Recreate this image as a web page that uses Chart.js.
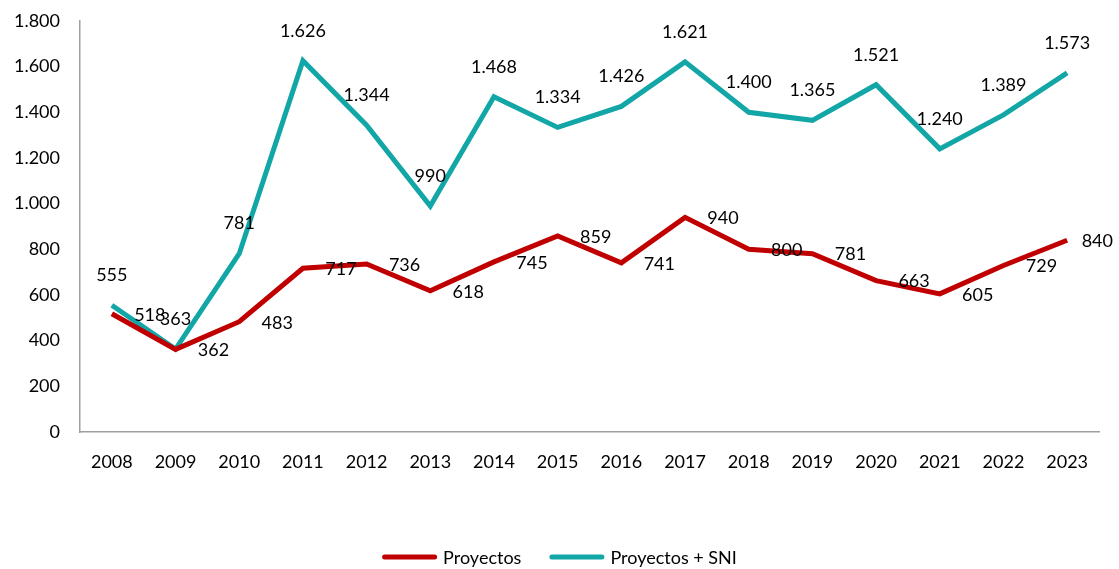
<!DOCTYPE html>
<html>
<head>
<meta charset="utf-8">
<script src="https://cdn.jsdelivr.net/npm/chart.js@4/dist/chart.umd.min.js"></script>
<style>
  html, body { margin: 0; padding: 0; background: #fff; }
  #wrap { width: 1119px; height: 569px; }
</style>
</head>
<body>
<div id="wrap"><canvas id="chart"></canvas></div>
<script>
const years = ["2008", "2009", "2010", "2011", "2012", "2013", "2014", "2015",
  "2016", "2017", "2018", "2019", "2020", "2021", "2022", "2023"];
const proyectos = [518, 362, 483, 717, 736, 618, 745, 859, 741, 940, 800, 781, 663, 605, 729, 840];
const proyectosSNI = [555, 363, 781, 1626, 1344, 990, 1468, 1334, 1426, 1621, 1400, 1365, 1521, 1240, 1389, 1573];

const FONT = "Lato, 'Open Sans', sans-serif";
const fmt = v => v.toLocaleString("de-DE");

// no datalabels plugin available, so draw the value labels by hand
const valueLabels = {
  id: "valueLabels",
  afterDatasetsDraw(chart) {
    const ctx = chart.ctx;
    ctx.save();
    ctx.font = "18px " + FONT;
    ctx.fillStyle = "#000";
    ctx.textBaseline = "middle";
    ctx.textAlign = "center";
    chart.data.datasets.forEach((ds, i) => {
      const meta = chart.getDatasetMeta(i);
      meta.data.forEach((pt, j) => {
        const txt = fmt(ds.data[j]);
        if (ds.labelPos === "right") {
          const w = ctx.measureText(txt).width;
          // keep the last label inside the canvas
          const x = Math.min(pt.x + 38, chart.width - 6 - w / 2);
          ctx.fillText(txt, x, pt.y + 1);
        } else {
          ctx.fillText(txt, pt.x, pt.y - 30);
        }
      });
    });
    ctx.restore();
  }
};

// legend drawn by hand: line swatches with round caps, centred under the chart
const lineLegend = {
  id: "lineLegend",
  afterDraw(chart) {
    const ctx = chart.ctx;
    const lineLen = 55, gap = 6, itemGap = 28, y = 557;
    ctx.save();
    ctx.font = "18px " + FONT;
    const items = chart.data.datasets.map(ds => ({
      text: ds.label, color: ds.borderColor, w: ctx.measureText(ds.label).width
    }));
    const total = items.reduce((s, it) => s + lineLen + gap + it.w, 0) + itemGap * (items.length - 1);
    let x = (chart.width - total) / 2;
    ctx.textBaseline = "middle";
    ctx.textAlign = "left";
    ctx.lineCap = "round";
    ctx.lineWidth = 5;
    items.forEach(it => {
      ctx.strokeStyle = it.color;
      ctx.beginPath();
      ctx.moveTo(x + 2.5, y);
      ctx.lineTo(x + lineLen - 2.5, y);
      ctx.stroke();
      ctx.fillStyle = "#000";
      ctx.fillText(it.text, x + lineLen + gap, y + 1);
      x += lineLen + gap + it.w + itemGap;
    });
    ctx.restore();
  }
};

new Chart(document.getElementById("chart"), {
  type: "line",
  data: {
    labels: years,
    datasets: [
      {
        label: "Proyectos",
        data: proyectos,
        borderColor: "#C00000",
        backgroundColor: "#C00000",
        borderWidth: 5,
        pointRadius: 0,
        tension: 0,
        borderJoinStyle: "miter",
        labelPos: "right"
      },
      {
        label: "Proyectos + SNI",
        data: proyectosSNI,
        borderColor: "#13A6A6",
        backgroundColor: "#13A6A6",
        borderWidth: 5,
        pointRadius: 0,
        tension: 0,
        borderJoinStyle: "miter",
        labelPos: "above"
      }
    ]
  },
  options: {
    responsive: true,
    maintainAspectRatio: false,
    animation: false,
    layout: { padding: { top: 21, right: 20, bottom: 0, left: 0 } },
    scales: {
      x: {
        offset: true,
        grid: { display: false, drawTicks: false },
        border: { color: "#a0a0a0", width: 1.5 },
        ticks: { padding: 19, color: "#000", font: { family: FONT, size: 18 } },
        afterFit(s) { s.height = 137; }
      },
      y: {
        min: 0,
        max: 1800,
        // hidden tick marks give the gap between labels and axis
        grid: { display: false, drawTicks: true, tickLength: 20 },
        border: { color: "#a0a0a0", width: 1.5 },
        ticks: {
          stepSize: 200,
          padding: 0,
          color: "#000",
          font: { family: FONT, size: 18 },
          callback: v => fmt(v)
        },
        afterFit(s) { s.width = 80; }
      }
    },
    plugins: {
      tooltip: { enabled: false },
      legend: { display: false }
    }
  },
  plugins: [valueLabels, lineLegend]
});
</script>
</body>
</html>
